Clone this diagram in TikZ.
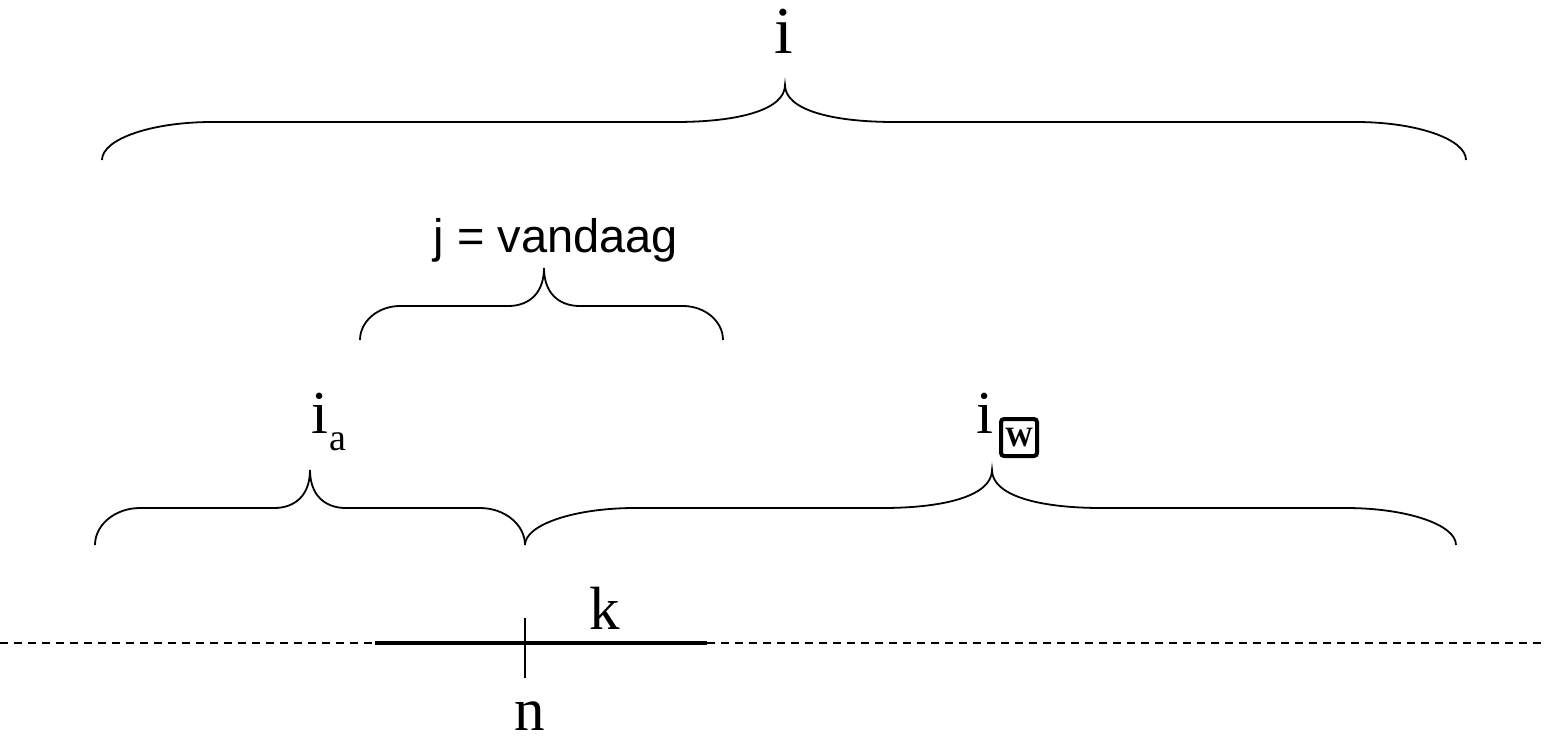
\documentclass[tikz,border=0pt]{standalone}
\usepackage{fontspec}
\setmainfont{Liberation Serif}
\newfontfamily\arialfont{Liberation Sans}
\tikzset{
  bracestyle/.style={line width=1.8pt, black},
  serifbig/.style={font=\fontsize{67}{76}\selectfont, inner sep=0pt, anchor=base},
  serifmid/.style={font=\fontsize{61}{70}\selectfont, inner sep=0pt, anchor=base},
  sanslabel/.style={font=\arialfont\fontsize{47}{56}\selectfont, inner sep=0pt, anchor=base},
  baseline dash/.style={line width=1.3pt, dash pattern=on 8pt off 6pt},
  thickseg/.style={line width=4pt},
  tickline/.style={line width=1.5pt},
  glyphbox/.style={draw, line width=4pt, rounded corners=3pt, minimum width=36pt, minimum height=37pt,
      inner sep=0pt, font=\bfseries\fontsize{28}{28}\selectfont}
}
% brace: #1 left x, #2 right x, #3 tip x, #4 end y, #5 mid y, #6 tip y, #7 end width, #8 tip width
\newcommand{\mybrace}[8]{%
  \draw[bracestyle] (#1,#4) .. controls (#1,{#5+0.45*(#4-#5)}) and ({#1+0.45*#7},#5) .. ({#1+#7},#5)
    -- ({#3-#8},#5) .. controls ({#3-0.4*#8},#5) and (#3,{#5-0.35*(#5-#6)}) .. (#3,#6)
    .. controls (#3,{#5-0.35*(#5-#6)}) and ({#3+0.4*#8},#5) .. ({#3+#8},#5)
    -- ({#2-#7},#5) .. controls ({#2-0.45*#7},#5) and (#2,{#5+0.45*(#4-#5)}) .. (#2,#4);}
\begin{document}
\begin{tikzpicture}[x=1pt,y=-1pt]
\useasboundingbox (0,0) rectangle (1544,739);
% top brace
\mybrace{102}{1466}{785}{160}{122}{85}{110}{110}
\node[serifbig] (itop) at (784,53) {i};
% j brace
\mybrace{360}{723}{544}{340}{306}{268}{40}{36}
\node[sanslabel] (jlab) at (556,252) {j = vandaag};
% lower braces
\mybrace{95}{525}{310}{545}{508}{470}{45}{36}
\mybrace{525}{1456}{992}{545}{508}{470}{110}{110}
\node[serifmid] (ia) at (320,433) {i};
\node[font=\fontsize{38}{38}\selectfont, inner sep=0pt, anchor=base west] (asub) at (329,450) {a};
\node[serifmid] (iw) at (985,433) {i};
\node[glyphbox] (wbox) at (1019,437.5) {W};
% time line
\coordinate (lstart) at (0,643);
\coordinate (lend) at (1544,643);
\coordinate (sA) at (375,643);
\coordinate (sB) at (707,643);
\draw[baseline dash] (lstart) -- (sA);
\draw[baseline dash] (sB) -- (lend);
\draw[thickseg] (sA) -- (sB);
\coordinate (tickT) at (525,618);
\coordinate (tickB) at (525,678);
\draw[tickline] (tickT) -- (tickB);
\node[serifmid] (k) at (605,629) {k};
\node[serifmid] (n) at (530,730) {n};
\end{tikzpicture}
\end{document}
